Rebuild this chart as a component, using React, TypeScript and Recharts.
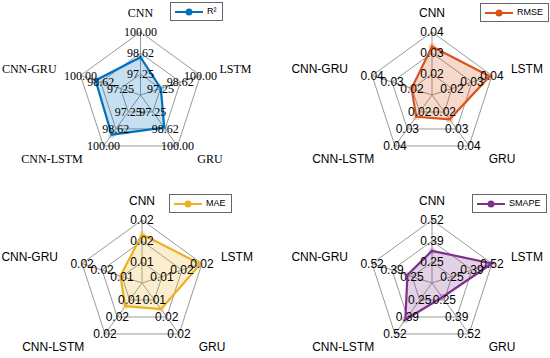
import {
  RadarChart,
  Radar,
  PolarGrid,
  PolarAngleAxis,
  PolarRadiusAxis,
  Legend,
} from "recharts";

const CATEGORIES = ["CNN", "LSTM", "GRU", "CNN-LSTM", "CNN-GRU"];

const R2_VALUES = [98.35, 97.28, 98.52, 99.09, 98.97];
const RMSE_VALUES = [0.0331, 0.0389, 0.0243, 0.0228, 0.0202];
const MAE_VALUES = [0.0176, 0.0206, 0.0137, 0.0128, 0.0114];
const SMAPE_VALUES = [0.322, 0.52, 0.228, 0.407, 0.281];

// first tick is the centre of the web and is not labelled
const R2_TICKS = [95.88, 97.25, 98.62, 100];
const RMSE_TICKS = [0.01, 0.02, 0.03, 0.04];
const MAE_TICKS = [0.006, 0.011, 0.016, 0.021];
const SMAPE_TICKS = [0.115, 0.25, 0.385, 0.52];

const SERIF = "'Liberation Serif', 'Times New Roman', serif";
const SANS = "'Liberation Sans', Arial, sans-serif";

const angleOf = (i: number) => ((90 - i * 72) * Math.PI) / 180;

const makeAngleTick = (cx: number, cy: number, font: string) => (props: any) => {
  const i = CATEGORIES.indexOf(props.payload.value);
  const a = angleOf(i);
  const cos = Math.cos(a);
  const sin = Math.sin(a);
  let x = cx + 83 * cos;
  let y = cy - 83 * sin;
  let anchor: "start" | "middle" | "end" = "middle";
  if (cos > 0.1) {
    anchor = "start";
  } else if (cos < -0.1) {
    anchor = "end";
    x -= 5;
  }
  // lower labels sit further out sideways
  if (sin < -0.1) {
    x += cos > 0 ? 8 : -4;
    y -= 3;
  }
  if (i === 0) y += 1;
  return (
    <text
      x={x}
      y={y}
      textAnchor={anchor}
      dominantBaseline="central"
      fontSize={12}
      fontFamily={font}
      fill="#000"
    >
      {props.payload.value}
    </text>
  );
};

const makeRadiusTick = (cx: number, cy: number, font: string) => (props: any) => {
  const r = cy - props.y;
  if (r < 1) return <g />;
  return (
    <g>
      {CATEGORIES.map((c, i) => {
        const a = angleOf(i);
        return (
          <text
            key={c}
            x={cx + r * Math.cos(a)}
            y={cy - r * Math.sin(a)}
            textAnchor="middle"
            dominantBaseline="central"
            fontSize={12}
            fontFamily={font}
            fill="#000"
          >
            {Number(props.payload.value).toFixed(2)}
          </text>
        );
      })}
    </g>
  );
};

const makeLegend = (color: string) => (props: any) => (
  <div
    style={{
      display: "inline-flex",
      alignItems: "center",
      border: "1px solid #666",
      background: "#fff",
      padding: "3px 5px 3px 3px",
      fontFamily: SANS,
      fontSize: 9,
      lineHeight: "11px",
      whiteSpace: "nowrap",
    }}
  >
    <svg width={30} height={10} style={{ marginRight: 3 }}>
      <line x1={1} y1={5} x2={29} y2={5} stroke={color} strokeWidth={2} />
      <circle cx={15} cy={5} r={3.5} fill={color} />
    </svg>
    <span>{props.payload?.[0]?.value}</span>
  </div>
);

interface PanelProps {
  name: string;
  values: number[];
  ticks: number[];
  color: string;
  font: string;
  left: number;
  top: number;
  cx: number;
  cy: number;
  legendLeft: number;
  legendTop: number;
}

function Panel({
  name,
  values,
  ticks,
  color,
  font,
  left,
  top,
  cx,
  cy,
  legendLeft,
  legendTop,
}: PanelProps) {
  const data = CATEGORIES.map((c, i) => ({ subject: c, value: values[i] }));
  return (
    <div style={{ position: "absolute", left, top }}>
      <RadarChart
        width={275}
        height={187}
        data={data}
        cx={cx}
        cy={cy}
        outerRadius={63}
        margin={{ top: 0, right: 0, bottom: 0, left: 0 }}
      >
        <PolarGrid stroke="#999" strokeWidth={1} />
        <PolarAngleAxis
          dataKey="subject"
          tick={makeAngleTick(cx, cy, font)}
          tickLine={false}
          axisLine={false}
        />
        <Radar
          name={name}
          dataKey="value"
          stroke={color}
          strokeWidth={2.2}
          fill={color}
          fillOpacity={0.22}
          dot={{ r: 3.5, fill: color, strokeWidth: 0 }}
          isAnimationActive={false}
        />
        <PolarRadiusAxis
          angle={90}
          type="number"
          domain={[ticks[0], ticks[ticks.length - 1]]}
          ticks={ticks as any}
          tickCount={ticks.length}
          allowDecimals={true}
          allowDataOverflow
          axisLine={false}
          tick={makeRadiusTick(cx, cy, font)}
        />
        <Legend
          layout="vertical"
          align="right"
          verticalAlign="middle"
          wrapperStyle={{
            left: legendLeft,
            top: legendTop,
            right: "auto",
            bottom: "auto",
            width: "auto",
          }}
          content={makeLegend(color)}
        />
      </RadarChart>
    </div>
  );
}

export default function App() {
  return (
    <div
      style={{
        position: "absolute",
        left: 0,
        top: 0,
        width: 550,
        height: 358,
        background: "#fff",
        overflow: "hidden",
      }}
    >
      <Panel
        name="R²"
        values={R2_VALUES}
        ticks={R2_TICKS}
        color="#0072BD"
        font={SERIF}
        left={0}
        top={0}
        cx={140.5}
        cy={95}
        legendLeft={170}
        legendTop={2}
      />
      <Panel
        name="RMSE"
        values={RMSE_VALUES}
        ticks={RMSE_TICKS}
        color="#D95319"
        font={SANS}
        left={275}
        top={0}
        cx={157}
        cy={95}
        legendLeft={205}
        legendTop={3}
      />
      <Panel
        name="MAE"
        values={MAE_VALUES}
        ticks={MAE_TICKS}
        color="#EDB120"
        font={SANS}
        left={0}
        top={187}
        cx={142}
        cy={96}
        legendLeft={169}
        legendTop={7}
      />
      <Panel
        name="SMAPE"
        values={SMAPE_VALUES}
        ticks={SMAPE_TICKS}
        color="#7E2F8E"
        font={SANS}
        left={275}
        top={187}
        cx={157}
        cy={96}
        legendLeft={197}
        legendTop={7}
      />
    </div>
  );
}
